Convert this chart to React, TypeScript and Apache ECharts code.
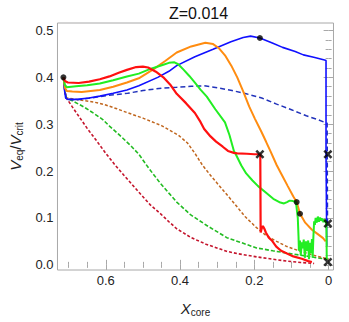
import React, { useEffect, useRef } from "react";
import * as echarts from "echarts";

const FONT = "Liberation Sans, Arial, sans-serif";

const titleText = "Z=0.014";

const xMajor = [0, 0.2, 0.4, 0.6];
const xMinor = [0.05, 0.1, 0.15, 0.25, 0.3, 0.35, 0.45, 0.5, 0.55, 0.65, 0.7];
const yMajor = [0, 0.1, 0.2, 0.3, 0.4, 0.5];
const yMinor = [0.02, 0.04, 0.06, 0.08, 0.12, 0.14, 0.16, 0.18, 0.22, 0.24, 0.26, 0.28, 0.32, 0.34, 0.36, 0.38, 0.42, 0.44, 0.46, 0.48];

const blueSolid = [
  [0.714, 0.4], [0.711, 0.372], [0.708, 0.356], [0.702, 0.353], [0.677, 0.353], [0.645, 0.356],
  [0.616, 0.36], [0.58, 0.366], [0.543, 0.373], [0.511, 0.382], [0.46, 0.4], [0.43, 0.413],
  [0.409, 0.425], [0.36, 0.444], [0.311, 0.46], [0.263, 0.476], [0.23, 0.485], [0.21, 0.488],
  [0.185, 0.484], [0.15, 0.473], [0.124, 0.464], [0.09, 0.455], [0.068, 0.448], [0.04, 0.443],
  [0.011, 0.437], [0.007, 0.436], [0.007, 0.236], [0.005, 0.04],
];

const orangeSolid = [
  [0.714, 0.4], [0.71, 0.378], [0.705, 0.371], [0.69, 0.37], [0.665, 0.369], [0.616, 0.373],
  [0.58, 0.38], [0.543, 0.389], [0.511, 0.398], [0.47, 0.418], [0.44, 0.435], [0.409, 0.453],
  [0.37, 0.466], [0.332, 0.474], [0.311, 0.471], [0.295, 0.462], [0.279, 0.447], [0.262, 0.425],
  [0.246, 0.4], [0.23, 0.37], [0.214, 0.338], [0.198, 0.311], [0.181, 0.284], [0.168, 0.262],
  [0.157, 0.243], [0.14, 0.213], [0.128, 0.195], [0.11, 0.168], [0.095, 0.146], [0.086, 0.134],
  [0.077, 0.109], [0.063, 0.09], [0.045, 0.075], [0.03, 0.066], [0.015, 0.057], [0.008, 0.05],
];

const greenSolid = [
  [0.714, 0.4], [0.71, 0.384], [0.705, 0.379], [0.68, 0.381], [0.65, 0.383], [0.616, 0.387],
  [0.58, 0.394], [0.543, 0.402], [0.511, 0.408], [0.48, 0.418], [0.445, 0.427], [0.43, 0.431],
  [0.415, 0.432], [0.405, 0.428], [0.39, 0.416], [0.375, 0.403], [0.36, 0.389], [0.345, 0.374],
  [0.328, 0.359], [0.305, 0.332], [0.279, 0.304], [0.267, 0.277], [0.255, 0.243], [0.25, 0.236],
  [0.235, 0.212], [0.222, 0.195], [0.205, 0.18], [0.19, 0.168], [0.17, 0.155], [0.149, 0.141],
  [0.13, 0.133], [0.12, 0.131], [0.112, 0.134], [0.105, 0.137], [0.096, 0.136], [0.088, 0.134],
  [0.083, 0.1], [0.081, 0.06], [0.08, 0.03], [0.077, 0.052], [0.075, 0.02], [0.072, 0.048],
  [0.07, 0.035], [0.067, 0.054], [0.064, 0.015], [0.061, 0.05], [0.058, 0.03], [0.055, 0.052],
  [0.053, 0.012], [0.05, 0.047], [0.047, 0.025], [0.045, 0.055], [0.043, 0.015], [0.041, 0.06],
  [0.039, 0.093], [0.037, 0.085], [0.035, 0.1], [0.032, 0.09], [0.029, 0.103], [0.026, 0.092],
  [0.023, 0.101], [0.02, 0.094], [0.017, 0.099], [0.014, 0.091], [0.011, 0.097], [0.008, 0.092],
  [0.006, 0.085], [0.005, 0.012],
];

const redSolid = [
  [0.714, 0.4], [0.71, 0.392], [0.702, 0.389], [0.673, 0.388], [0.645, 0.391], [0.616, 0.396],
  [0.59, 0.402], [0.565, 0.41], [0.543, 0.416], [0.518, 0.422], [0.5, 0.423], [0.486, 0.421],
  [0.465, 0.412], [0.445, 0.4], [0.425, 0.383], [0.409, 0.365], [0.384, 0.345], [0.36, 0.324],
  [0.345, 0.305], [0.335, 0.29], [0.318, 0.274], [0.303, 0.263], [0.285, 0.252], [0.271, 0.243],
  [0.255, 0.239], [0.246, 0.238], [0.22, 0.237], [0.2, 0.236], [0.184, 0.236], [0.183, 0.069],
  [0.18, 0.078], [0.177, 0.083], [0.173, 0.077], [0.169, 0.069], [0.161, 0.058], [0.153, 0.052],
  [0.141, 0.039], [0.128, 0.03], [0.112, 0.024], [0.095, 0.018], [0.072, 0.013], [0.055, 0.008],
  [0.045, 0.006],
];

const blueDashed = [
  [0.714, 0.4], [0.71, 0.37], [0.706, 0.356], [0.69, 0.352], [0.678, 0.352], [0.64, 0.356],
  [0.6, 0.361], [0.541, 0.366], [0.5, 0.372], [0.45, 0.377], [0.409, 0.379], [0.37, 0.381],
  [0.335, 0.382], [0.3, 0.378], [0.26, 0.372], [0.222, 0.365], [0.18, 0.356], [0.14, 0.343],
  [0.1, 0.331], [0.06, 0.318], [0.03, 0.31], [0.01, 0.304], [0.004, 0.302], [0.003, 0.09],
];

const brownDashed = [
  [0.714, 0.4], [0.71, 0.37], [0.706, 0.356], [0.664, 0.351], [0.63, 0.347], [0.6, 0.341],
  [0.57, 0.333], [0.543, 0.325], [0.5, 0.313], [0.45, 0.297], [0.405, 0.277], [0.38, 0.26],
  [0.36, 0.238], [0.34, 0.213], [0.315, 0.188], [0.287, 0.162], [0.255, 0.132], [0.225, 0.103],
  [0.195, 0.08], [0.169, 0.063], [0.14, 0.05], [0.112, 0.039], [0.08, 0.03], [0.047, 0.022],
  [0.02, 0.016], [0.0, 0.012],
];

const greenDashed = [
  [0.714, 0.4], [0.71, 0.37], [0.706, 0.356], [0.685, 0.348], [0.657, 0.336], [0.63, 0.322],
  [0.608, 0.31], [0.59, 0.296], [0.559, 0.274], [0.53, 0.252], [0.511, 0.236], [0.485, 0.207],
  [0.454, 0.175], [0.43, 0.153], [0.409, 0.134], [0.372, 0.107], [0.328, 0.084], [0.274, 0.058],
  [0.23, 0.046], [0.194, 0.036], [0.15, 0.03], [0.112, 0.025], [0.07, 0.02], [0.031, 0.015],
  [0.0, 0.012],
];

const darkRedDashed = [
  [0.714, 0.4], [0.71, 0.37], [0.706, 0.356], [0.69, 0.337], [0.67, 0.314], [0.649, 0.29],
  [0.625, 0.265], [0.6, 0.238], [0.575, 0.213], [0.55, 0.19], [0.511, 0.155], [0.48, 0.128],
  [0.454, 0.11], [0.43, 0.092], [0.409, 0.077], [0.37, 0.058], [0.33, 0.044], [0.275, 0.029],
  [0.246, 0.024], [0.194, 0.017], [0.15, 0.012], [0.112, 0.008], [0.075, 0.005], [0.039, 0.003],
];

const dots = [[0.714, 0.4], [0.185, 0.484], [0.086, 0.134], [0.077, 0.109]];
const crosses = [[0.185, 0.236], [0.002, 0.236], [0.002, 0.088], [0.002, 0.006]];

const X_MIN = -0.0131;
const X_MAX = 0.73;
const Y_MIN = -0.011;
const Y_MAX = 0.516;

const FRAME = "#a8a8a8";
const CROSS =
  "path://M2,0 L5,3 L8,0 L10,2 L7,5 L10,8 L8,10 L5,7 L2,10 L0,8 L3,5 L0,2 Z";

function tickAxis(kind: "x" | "y", position: string, values: number[], len: number, labels: boolean) {
  const base: any = {
    type: "value",
    position,
    min: kind === "x" ? X_MIN : Y_MIN,
    max: kind === "x" ? X_MAX : Y_MAX,
    inverse: kind === "x",
    splitLine: { show: false },
    axisLine: { show: false },
    axisTick: {
      show: true,
      inside: true,
      length: len,
      customValues: values,
      lineStyle: { color: FRAME, width: 1 },
    },
    axisLabel: labels
      ? {
          show: true,
          customValues: values,
          fontSize: 13,
          fontFamily: FONT,
          color: "#222",
          margin: 4,
          formatter: (v: number) =>
            kind === "x" ? (Math.abs(v) < 1e-9 ? "0" : v.toFixed(1)) : v.toFixed(1),
        }
      : { show: false },
  };
  return base;
}

export default function App() {
  const ref = useRef<HTMLDivElement>(null);
  useEffect(() => {
    if (!ref.current) return;
    const chart = echarts.init(ref.current, null, { renderer: "svg" });
    const line = (data: number[][], color: string, width: number, dash?: number[]) => ({
      type: "line",
      data,
      showSymbol: false,
      symbol: "none",
      smooth: false,
      xAxisIndex: 0,
      yAxisIndex: 0,
      lineStyle: { color, width, type: dash ? dash : "solid" },
      z: 2,
    });
    const xMain = tickAxis("x", "bottom", xMajor, 5, true);
    xMain.name = "{v|X}{s|core}";
    xMain.nameLocation = "middle";
    xMain.nameGap = 29;
    xMain.nameTextStyle = {
      fontFamily: FONT,
      color: "#222",
      rich: {
        v: { fontSize: 15, fontStyle: "italic", fontFamily: FONT, color: "#222", lineHeight: 18 },
        s: { fontSize: 10, fontFamily: FONT, color: "#222", verticalAlign: "bottom", lineHeight: 12 },
      },
    };
    const yMain = tickAxis("y", "left", yMajor, 5, true);
    yMain.name = "{v|V}{s|eq}{n|/}{v|V}{s|crit}";
    yMain.nameLocation = "middle";
    yMain.nameGap = 29;
    yMain.nameRotate = 90;
    yMain.nameTextStyle = {
      fontFamily: FONT,
      color: "#222",
      rich: {
        v: { fontSize: 15, fontStyle: "italic", fontFamily: FONT, color: "#222", lineHeight: 18 },
        n: { fontSize: 15, fontFamily: FONT, color: "#222", lineHeight: 18 },
        s: { fontSize: 10, fontFamily: FONT, color: "#222", verticalAlign: "bottom", lineHeight: 12 },
      },
    };
    chart.setOption({
      animation: false,
      backgroundColor: "#fff",
      title: {
        text: titleText,
        left: 164,
        top: 0,
        textStyle: { fontSize: 16, fontWeight: "normal", fontFamily: FONT, color: "#111" },
      },
      grid: {
        left: 44,
        top: 23,
        right: 1,
        bottom: 41,
        show: true,
        borderColor: FRAME,
        borderWidth: 1,
        backgroundColor: "transparent",
      },
      xAxis: [
        xMain,
        tickAxis("x", "bottom", xMinor, 3, false),
        tickAxis("x", "top", xMajor, 5, false),
        tickAxis("x", "top", xMinor, 3, false),
      ],
      yAxis: [
        yMain,
        tickAxis("y", "left", yMinor, 3, false),
        tickAxis("y", "right", yMajor, 5, false),
        tickAxis("y", "right", yMinor, 3, false),
      ],
      series: [
        line(darkRedDashed, "#c4142c", 1.6, [3, 2]),
        line(greenDashed, "#22bb22", 1.6, [4, 2]),
        line(brownDashed, "#c0661e", 1.5, [3, 2]),
        line(blueDashed, "#2233bb", 1.5, [5, 3]),
        line(blueSolid, "#1010ff", 1.6),
        line(orangeSolid, "#ff8c10", 2),
        line(greenSolid, "#22ee22", 2),
        line(redSolid, "#ff1010", 2.2),
        {
          type: "scatter",
          data: dots,
          symbol: "circle",
          symbolSize: 6,
          itemStyle: { color: "#000" },
          z: 5,
        },
        {
          type: "scatter",
          data: crosses,
          symbol: CROSS,
          symbolSize: 9,
          itemStyle: { color: "#000" },
          z: 5,
        },
      ],
    });
    return () => chart.dispose();
  }, []);
  return (
    <div
      ref={ref}
      style={{ position: "fixed", left: 0, top: 0, width: 349, height: 322, background: "#fff" }}
    />
  );
}
